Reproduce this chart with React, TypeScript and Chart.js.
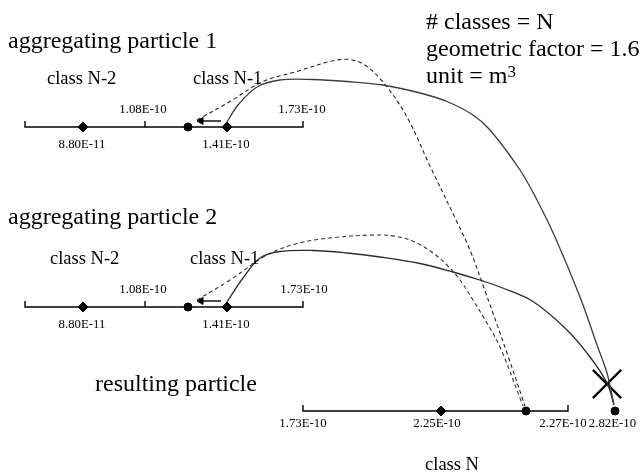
import { useEffect, useRef } from 'react';
import { Chart, registerables } from 'chart.js';

Chart.register(...registerables);

// ---- values printed on the size axes (m^3) ----
const parentBoundaries = ['1.08E-10', '1.73E-10'];
const parentRepresentatives = ['8.80E-11', '1.41E-10'];
const resultBoundaries = ['1.73E-10', '2.27E-10'];
const resultRepresentatives = ['2.25E-10'];
const aggregateVolume = '2.82E-10';

const parentClassLabels = ['class N-2', 'class N-1'];
const resultClassLabel = 'class N';
const particleTitles = ['aggregating particle 1', 'aggregating particle 2'];
const resultTitle = 'resulting particle';
const infoLines = ['# classes = N', 'geometric factor = 1.6', 'unit = m'];
const unitExponent = '3';

// ---- schematic layout, in diagram units (y grows downward) ----
const SPAN_X = 643;
const SPAN_Y = 474;
const parentAxisX = [25, 303];
const parentBoundaryX = [145, 303];
const parentRepX = [83, 227];
const parentSplitX = 188;
const parentAxisY = [127, 307];
const resultAxisX = [303, 568];
const resultRepX = [441];
const resultSplitX = 526;
const aggregateX = 615;
const resultAxisY = 411;
const TICK = 6;

// ---- traced paths: whole particle (solid) and its share sent to the split node (dashed) ----
const solidPath1 = [
  [227, 122], [238, 105], [257, 87], [280, 80], [313, 79.5], [347, 81.5], [383, 85],
  [420, 93], [447, 101.5], [473, 115], [490, 130], [520, 170], [537, 200], [555, 237],
  [580, 297], [597, 345], [607, 373], [614, 405],
];
const dashedPath1 = [
  [197, 120], [230, 101.5], [263, 81.5], [297, 71.5], [330, 61.5], [350, 59.5], [367, 66.5],
  [387, 87], [407, 117], [430, 166], [457, 222], [470, 250], [484, 288], [507, 353], [525, 406],
];
const solidPath2 = [
  [227, 302], [243, 278], [260, 258], [280, 251.5], [313, 250.5], [347, 253], [380, 257],
  [420, 263.5], [453, 272], [483, 281], [500, 287], [533, 301.5], [567, 330], [590, 357],
  [607, 383], [614, 405],
];
const dashedPath2 = [
  [197, 300], [230, 280], [267, 255], [297, 243.5], [330, 238], [373, 235], [397, 236.5],
  [417, 243], [433, 253], [447, 265], [460, 280], [473, 300], [487, 323], [500, 347], [523, 406],
];
// short shift arrow from the class node toward the split point, above each parent axis
const arrowFromX = 221;
const arrowToX = 201;
const arrowLift = 6;
const aggregateMark = [[607, 384]];

const SERIF = '"Liberation Serif", "Times New Roman", Times, serif';

type Pt = { x: number; y: number };
const pts = (a: number[][]): Pt[] => a.map(([x, y]) => ({ x, y }));

type TextItem = { text: string; x: number; y: number; size: number; align: CanvasTextAlign };

const textItems: TextItem[] = [];
const titleY = [48, 224];
const parentClassX = [[47, 193], [50, 190]];
const upperLabelX = [[143, 302], [143, 304]];
parentAxisY.forEach((ay, g) => {
  textItems.push({ text: particleTitles[g], x: 8, y: titleY[g], size: 24, align: 'left' });
  parentClassLabels.forEach((t, i) =>
    textItems.push({ text: t, x: parentClassX[g][i], y: ay - 43, size: 18.5, align: 'left' }));
  parentBoundaries.forEach((t, i) =>
    textItems.push({ text: t, x: upperLabelX[g][i], y: ay - 14, size: 12.8, align: 'center' }));
  parentRepresentatives.forEach((t, i) =>
    textItems.push({ text: t, x: parentRepX[i] - 1, y: ay + 21, size: 12.8, align: 'center' }));
});
textItems.push({ text: resultTitle, x: 95, y: 391, size: 24, align: 'left' });
textItems.push({ text: resultBoundaries[0], x: 303, y: resultAxisY + 16, size: 12.8, align: 'center' });
textItems.push({ text: resultBoundaries[1], x: 563, y: resultAxisY + 16, size: 12.8, align: 'center' });
textItems.push({ text: resultRepresentatives[0], x: 437, y: resultAxisY + 16, size: 12.8, align: 'center' });
textItems.push({ text: aggregateVolume, x: 612.5, y: resultAxisY + 16, size: 12.8, align: 'center' });
textItems.push({ text: resultClassLabel, x: 452, y: 470, size: 18.5, align: 'center' });
const infoY = [29, 56, 83];
infoLines.forEach((t, i) => textItems.push({ text: t, x: 426, y: infoY[i], size: 24, align: 'left' }));

const diagramText = {
  id: 'diagramText',
  afterDatasetsDraw(chart: Chart) {
    const { ctx } = chart;
    const sx = chart.scales.x;
    const sy = chart.scales.y;
    ctx.save();
    ctx.fillStyle = '#000';
    ctx.textBaseline = 'alphabetic';
    for (const it of textItems) {
      ctx.font = `${it.size}px ${SERIF}`;
      ctx.textAlign = it.align;
      ctx.fillText(it.text, sx.getPixelForValue(it.x), sy.getPixelForValue(it.y));
    }
    // exponent of the unit line
    ctx.font = `24px ${SERIF}`;
    const w = ctx.measureText(infoLines[2]).width;
    ctx.font = `17px ${SERIF}`;
    ctx.textAlign = 'left';
    ctx.fillText(unitExponent, sx.getPixelForValue(426) + w, sy.getPixelForValue(infoY[2] - 6));
    ctx.restore();
  },
};

const curve = (data: number[][], color: string, width: number, dash: number[] = []) => ({
  data: pts(data),
  showLine: true,
  borderColor: color,
  borderWidth: width,
  borderDash: dash,
  tension: 0.35,
  pointRadius: 0,
  fill: false,
});

const axisLines: any[] = [];
parentAxisY.forEach((ay) => {
  axisLines.push(curve([[parentAxisX[0], ay - TICK], [parentAxisX[0], ay], [parentAxisX[1], ay], [parentAxisX[1], ay - TICK]], '#000', 1.4));
  axisLines.push(curve([[parentBoundaryX[0], ay], [parentBoundaryX[0], ay - TICK]], '#000', 1.4));
});
axisLines.push(curve([[resultAxisX[0], resultAxisY - TICK], [resultAxisX[0], resultAxisY], [resultAxisX[1], resultAxisY], [resultAxisX[1], resultAxisY - TICK]], '#000', 1.4));
axisLines.forEach((d) => (d.tension = 0));

const arrows = parentAxisY.map((ay) => ({
  data: pts([[arrowFromX, ay - arrowLift], [arrowToX, ay - arrowLift]]),
  showLine: true,
  borderColor: '#000',
  borderWidth: 1.4,
  pointRadius: [0, 4],
  pointStyle: 'triangle',
  rotation: 270,
  pointBackgroundColor: '#000',
  pointBorderColor: '#000',
  pointBorderWidth: 1,
}));

const diamonds = [
  ...parentAxisY.flatMap((ay) => parentRepX.map((x) => [x, ay])),
  ...resultRepX.map((x) => [x, resultAxisY]),
];
const splitDots = [
  ...parentAxisY.map((ay) => [parentSplitX, ay]),
  [resultSplitX, resultAxisY],
  [aggregateX, resultAxisY],
];

const datasets: any[] = [
  curve(solidPath1, '#3c3c3c', 1.3),
  curve(dashedPath1, '#222', 1.1, [4, 3]),
  curve(solidPath2, '#2c2c2c', 1.3),
  curve(dashedPath2, '#333', 1.1, [4, 3]),
  ...axisLines,
  ...arrows,
  {
    data: pts(diamonds),
    pointStyle: 'rectRot',
    pointRadius: 5,
    pointBackgroundColor: '#000',
    pointBorderColor: '#000',
    pointBorderWidth: 1,
  },
  {
    data: pts(splitDots),
    pointStyle: 'circle',
    pointRadius: 4,
    pointBackgroundColor: '#000',
    pointBorderColor: '#000',
    pointBorderWidth: 1,
  },
  {
    data: pts(aggregateMark),
    pointStyle: 'crossRot',
    pointRadius: 20,
    pointBorderColor: '#000',
    pointBorderWidth: 2.2,
  },
];

export default function App() {
  const ref = useRef<HTMLCanvasElement>(null);
  useEffect(() => {
    const chart = new Chart(ref.current!, {
      type: 'scatter',
      data: { datasets },
      options: {
        animation: false,
        responsive: false,
        devicePixelRatio: 1,
        layout: { padding: 0, autoPadding: false },
        events: [],
        scales: {
          x: { type: 'linear', min: 0, max: SPAN_X, display: false },
          y: { type: 'linear', min: 0, max: SPAN_Y, reverse: true, display: false },
        },
        plugins: { legend: { display: false }, tooltip: { enabled: false } },
      },
      plugins: [diagramText],
    });
    return () => chart.destroy();
  }, []);
  return (
    <div style={{ position: 'absolute', left: 0, top: 0, width: SPAN_X, height: SPAN_Y, background: '#fff' }}>
      <canvas ref={ref} width={SPAN_X} height={SPAN_Y} style={{ display: 'block' }} />
    </div>
  );
}
